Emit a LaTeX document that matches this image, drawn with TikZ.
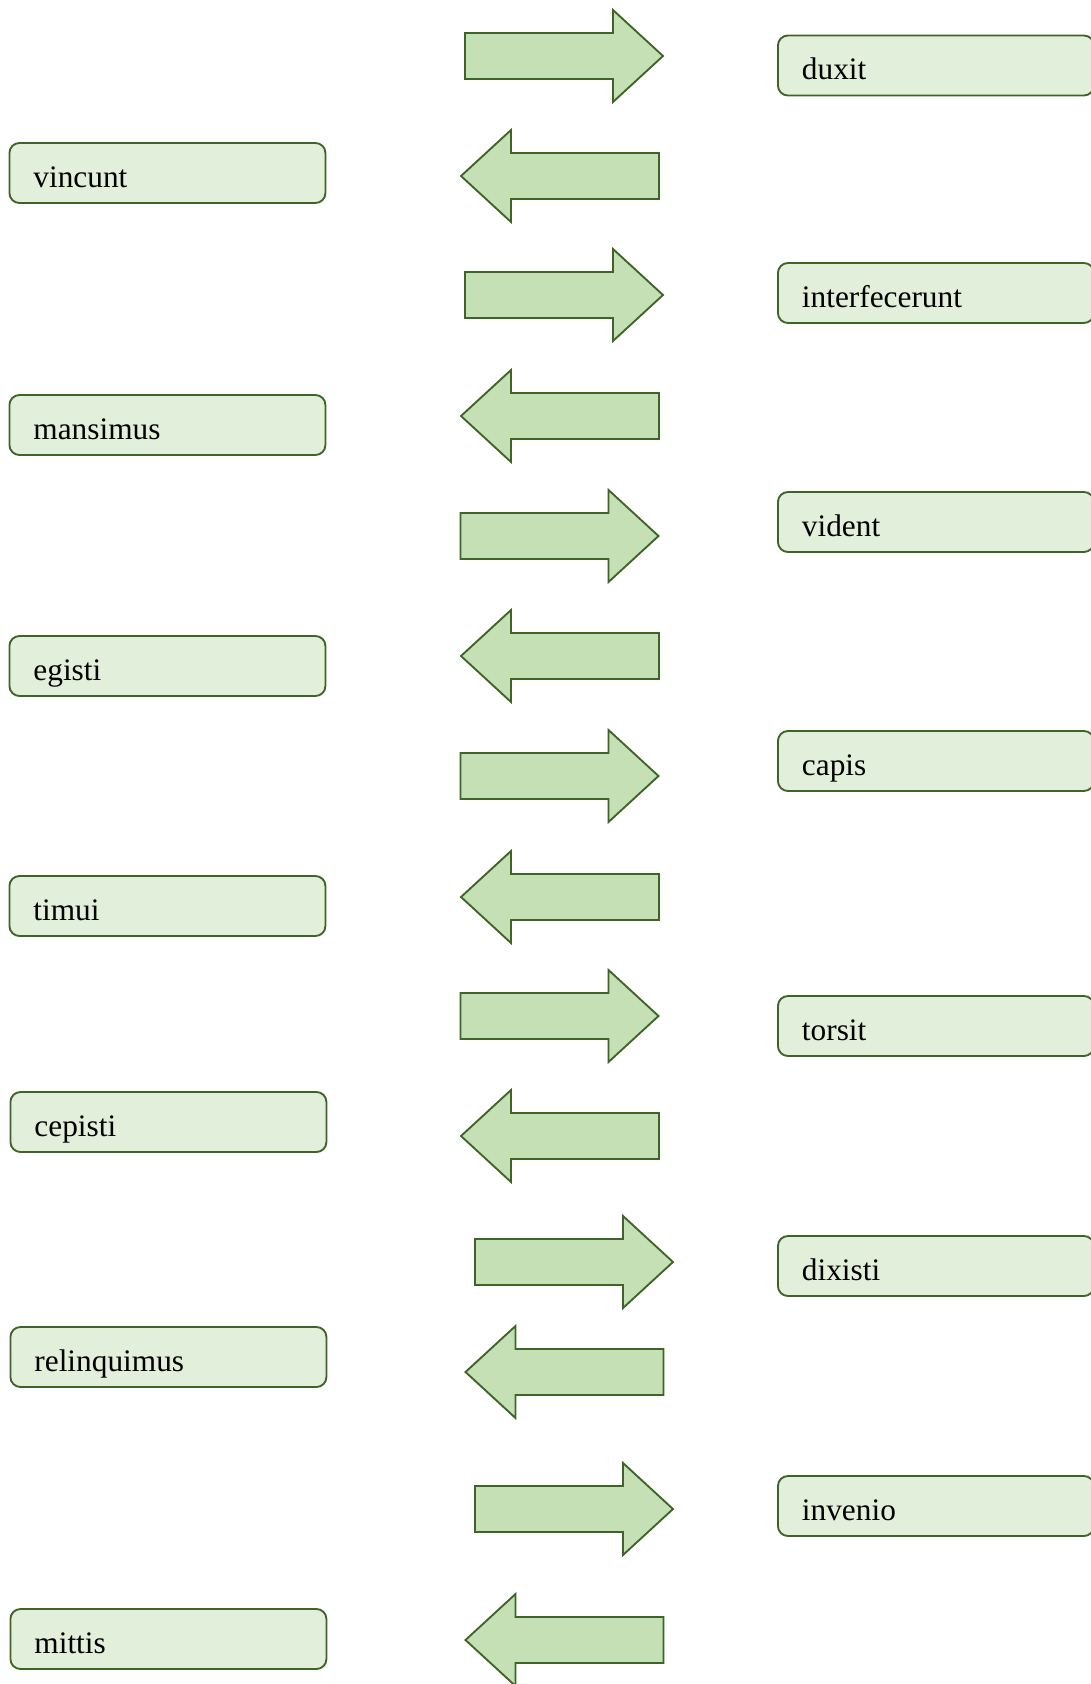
\documentclass[tikz,border=0pt]{standalone}
\usepackage{fontspec}
\setmainfont{Liberation Serif}
\definecolor{boxfill}{HTML}{E2EFDA}
\definecolor{arrfill}{HTML}{C5E0B4}
\definecolor{edge}{HTML}{3F6428}
\tikzset{
  wordbox/.style={draw=edge, fill=boxfill, line width=1.4pt, rounded corners=7.5pt,
    anchor=west, text width=201pt, align=left, inner xsep=18pt, inner ysep=0pt,
    minimum height=45pt, text height=22.5pt, text depth=1.5pt,
    font=\fontsize{23.5}{28}\selectfont},
  arrstyle/.style={draw=edge, fill=arrfill, line width=1.4pt, line join=miter},
  rarr/.pic={\path[arrstyle] (-99,-23) -- (49,-23) -- (49,-46) -- (99,0) -- (49,46) -- (49,23) -- (-99,23) -- cycle;},
  larr/.pic={\path[arrstyle] (99,-23) -- (-49,-23) -- (-49,-46) -- (-99,0) -- (-49,46) -- (-49,23) -- (99,23) -- cycle;}
}
\begin{document}
\begin{tikzpicture}[x=0.75pt, y=-0.75pt]
\useasboundingbox (0,0) rectangle (1090,1684);
% left boxes
\node[wordbox] (l1) at (8.5,173) {vincunt};
\node[wordbox] (l2) at (8.5,425) {mansimus};
\node[wordbox] (l3) at (8.5,666) {egisti};
\node[wordbox] (l4) at (8.5,906) {timui};
\node[wordbox] (l5) at (9.5,1122) {cepisti};
\node[wordbox] (l6) at (9.5,1357) {relinquimus};
\node[wordbox] (l7) at (9.5,1639) {mittis};
% right boxes
\node[wordbox] (r1) at (777,65.5) {duxit};
\node[wordbox] (r2) at (777,293) {interfecerunt};
\node[wordbox] (r3) at (777,522) {vident};
\node[wordbox] (r4) at (777,761) {capis};
\node[wordbox] (r5) at (777,1026) {torsit};
\node[wordbox] (r6) at (777,1266) {dixisti};
\node[wordbox] (r7) at (777,1506) {invenio};
% right arrows
\pic at (564,56) {rarr};
\pic at (564,295) {rarr};
\pic at (559.5,536) {rarr};
\pic at (559.5,776) {rarr};
\pic at (559.5,1016) {rarr};
\pic at (574,1262) {rarr};
\pic at (574,1509) {rarr};
% left arrows
\pic at (560,176) {larr};
\pic at (560,416) {larr};
\pic at (560,656) {larr};
\pic at (560,897) {larr};
\pic at (560,1136) {larr};
\pic at (564.5,1372) {larr};
\pic at (564.5,1640) {larr};
\end{tikzpicture}
\end{document}
